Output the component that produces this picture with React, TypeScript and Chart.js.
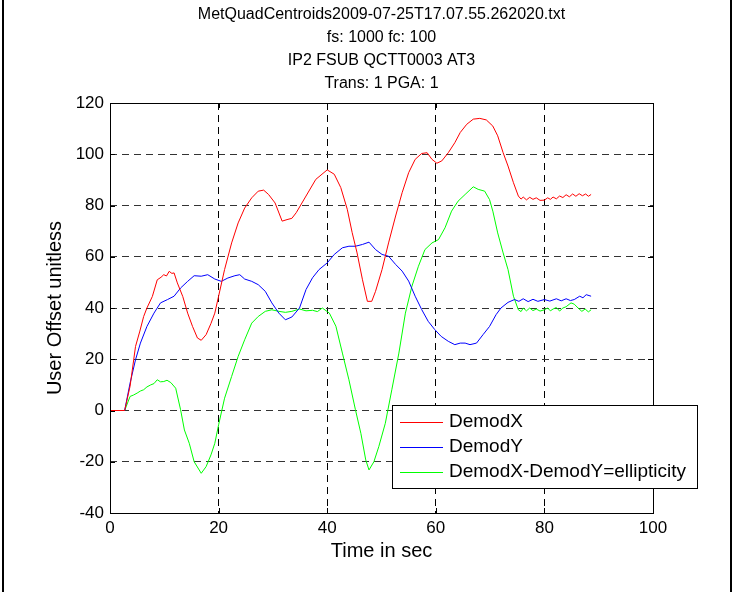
import { useEffect, useRef } from "react";
import { Chart, registerables } from "chart.js";

Chart.register(...registerables);

// Title block shown above the axes
const titleLines = [
  "MetQuadCentroids2009-07-25T17.07.55.262020.txt",
  "fs: 1000 fc: 100",
  "IP2 FSUB QCTT0003 AT3",
  "Trans: 1 PGA: 1",
];

const xAxisLabel = "Time in sec";
const yAxisLabel = "User Offset unitless";

const xTicks = [0, 20, 40, 60, 80, 100];
const yTicks = [-40, -20, 0, 20, 40, 60, 80, 100, 120];

const legendLabels = ["DemodX", "DemodY", "DemodX-DemodY=ellipticity"];
const seriesColors = ["#ff0000", "#0000ff", "#00ff00"];

// DemodX
const demodXTime = [
  0, 2.7, 3.7, 4.7, 5.5, 6.2, 6.8, 7.8, 8.7, 9.4, 9.9, 10.4, 10.9, 11.4, 11.8, 12.4, 13.4, 14.3, 15.2, 16.1,
  16.8, 17.7, 18.6, 19.3, 20, 21.1, 22.4, 23.6, 24.8, 26.1, 27.3, 28.3, 29.2, 30.4, 31.7, 32.6, 33.5, 34.3,
  36.1, 37.9, 40, 41.3, 42.5, 43.7, 44.6, 45.5, 46.5, 47.4, 48.2, 48.9, 50.1, 51.3, 52.6, 53.8, 55, 56.2,
  57.4, 58.4, 59.3, 60.2, 61.1, 62.3, 63.5, 64.5, 65.7, 66.9, 68.1, 69.3, 70.5, 71.4, 72.4, 73.3, 74.3,
  75.2, 75.7, 76.1, 76.7, 77.3, 77.9, 78.5, 79.2, 80, 80.6, 81.1, 81.6, 82.2, 82.8, 83.4, 84, 84.6, 85.2,
  85.8, 86.4, 87, 87.6, 88.1, 88.6,
];
const demodXValue = [
  0, 0, 9.5, 25, 31, 36.7, 40, 44.5, 51, 52, 53, 52.5, 54.3, 53.5, 53.7, 49.8, 44.5, 38, 32.8, 28.3,
  27.4, 29.6, 34, 38, 44.6, 55, 65.4, 73.2, 79, 83, 85.6, 86, 84.3, 81, 73.9, 74.5, 75, 77.2,
  83.7, 90.2, 93.9, 92.2, 87, 78.5, 69.4, 61.5, 51, 42.6, 42.6, 46.5, 55, 65.4, 75.9, 85, 92.8, 98,
  100.3, 100.6, 98, 96.5, 97.4, 100.6, 104.5, 108.5, 111.7, 113.7, 114, 113.4, 111, 107.2, 100.6, 95.4, 88.9,
  83.7, 82.5, 83.3, 82.2, 83.2, 82.4, 83, 82, 82.1, 83, 82.4, 83.3, 82.6, 83.7, 83.1, 84.2, 83.4, 84.5,
  83.6, 84.6, 83.8, 84.5, 83.6, 84.3,
];

// DemodY
const demodYTime = [
  0, 2.7, 3.7, 4.7, 5.6, 6.8, 8.1, 9.3, 10.6, 11.8, 13, 14.3, 15.5, 16.8, 18, 19.3, 20.5, 21.7, 23, 23.9,
  24.8, 26.1, 27.3, 28.6, 29.8, 31.1, 32.3, 33.5, 34.9, 36.1, 37.3, 38.5, 40, 41.3, 42.8, 44, 45.2, 46.5,
  47.7, 48.9, 50.1, 51.3, 52.6, 53.8, 55, 56.2, 57.4, 58.6, 59.8, 61, 62.3, 63.5, 64.5, 65.4, 66.3, 67.5,
  68.7, 69.9, 71.1, 72, 73.3, 74.5, 75.3, 76.1, 77, 77.9, 78.8, 80, 81, 82.2, 83.1, 84, 84.8, 85.5, 86.5,
  87.1, 87.7, 88.6,
];
const demodYValue = [
  0, 0, 10.7, 19.8, 26.3, 32.8, 38, 42, 43.3, 44.6, 47.8, 50.4, 52.6, 52.4, 53, 51.3, 50.4, 51.7, 52.6, 53,
  51.3, 50.4, 49.1, 46.5, 42, 38, 35.4, 36.5, 40, 47.2, 51.8, 55, 57.6, 60.9, 63.5, 64.1, 64.1, 64.8,
  65.7, 62.8, 60.9, 60.2, 57, 54.4, 50.5, 44.6, 39.4, 34.8, 31.6, 28.9, 27, 25.7, 26.3, 26.3, 25.7, 26.3,
  29.6, 32.8, 37.4, 40, 42.2, 43.3, 42.6, 43.6, 42.5, 43.4, 42.6, 43.3, 42.7, 43.6, 42.8, 43.6, 42.9, 43.3, 44.6,
  44.0, 45.2, 44.6,
];

// DemodX-DemodY
const ellipTime = [
  0, 2.7, 3.7, 4.3, 5, 5.6, 6.2, 6.8, 7.5, 8.1, 8.7, 9.3, 9.9, 10.5, 11.2, 12.1, 13, 13.7, 14.6, 15.5,
  16.8, 17.7, 18.6, 19.3, 20, 21.1, 22.4, 23.6, 24.8, 26.1, 27.3, 28.6, 29.8, 31.1, 32.3, 33.5, 34.9, 36.1,
  37.3, 38.2, 39.1, 40.4, 41.6, 42.8, 44, 45.2, 46.2, 47.1, 47.7, 48.6, 49.5, 50.7, 51.9, 53.2, 54.4, 55.6,
  56.8, 58, 59.3, 60.5, 61.7, 62.9, 64.1, 65.4, 66.9, 67.8, 69, 69.9, 70.5, 71.4, 72.4, 73.3, 74.3, 75.2,
  75.7, 76.1, 76.7, 77.3, 77.9, 78.5, 79.2, 80, 80.6, 81.1, 81.6, 82.2, 82.8, 83.4, 84, 84.9, 85.5, 86.2,
  86.9, 87.5, 88.1, 88.6,
];
const ellipValue = [
  0, 0, 5.5, 6.0, 6.8, 7.6, 8.1, 9.2, 10, 10.5, 12, 11.2, 11.3, 11.8, 10.9, 8.7, 0.3, -7.6, -12.8, -20,
  -24.5, -21.9, -17.3, -12.8, -5.6, 4.8, 13.3, 21.1, 27.6, 34.1, 36.7, 38.7, 39.3, 38.7, 38.3, 38.7, 39.6, 38.9,
  39.1, 38.6, 40, 38, 32.9, 22.4, 12, 0.3, -8.9, -19.3, -23.2, -20, -14.1, -5, 8.1, 22.4, 38, 48.5,
  56.3, 62.8, 65.4, 66.7, 71.3, 77.8, 81.7, 84.3, 87.3, 86.3, 85.6, 82.3, 77.8, 69.3, 61.5, 55, 44.6, 39.3,
  38.6, 40, 38.9, 40, 39, 39.6, 38.8, 39.3, 40, 38.9, 39.6, 40.2, 38.8, 40, 40.5, 42, 41.5, 40,
  38.7, 39.6, 38.5, 39.3,
];

const toPoints = (t: number[], v: number[]) => t.map((x, i) => ({ x, y: v[i] }));

const SANS = '"Liberation Sans", Arial, Helvetica, sans-serif';

const figurePlugin = {
  id: "figureDecor",
  beforeDraw(chart: any) {
    const { ctx, width, height } = chart;
    ctx.save();
    ctx.fillStyle = "#ffffff";
    ctx.fillRect(0, 0, width, height);
    ctx.restore();
  },
  afterDraw(chart: any) {
    const { ctx, chartArea, scales } = chart;
    const { left, right, top, bottom } = chartArea;
    const xs = scales.x;
    const ys = scales.y;
    ctx.save();

    // axes box
    ctx.strokeStyle = "#000";
    ctx.lineWidth = 1;
    ctx.setLineDash([]);
    ctx.strokeRect(Math.round(left) + 0.5, Math.round(top) + 0.5, Math.round(right - left), Math.round(bottom - top));

    // inward tick marks on all four sides
    const tl = 5;
    ctx.beginPath();
    xTicks.forEach((v) => {
      const px = Math.round(xs.getPixelForValue(v)) + 0.5;
      ctx.moveTo(px, bottom);
      ctx.lineTo(px, bottom - tl);
      ctx.moveTo(px, top);
      ctx.lineTo(px, top + tl);
    });
    yTicks.forEach((v) => {
      const py = Math.round(ys.getPixelForValue(v)) + 0.5;
      ctx.moveTo(left, py);
      ctx.lineTo(left + tl, py);
      ctx.moveTo(right, py);
      ctx.lineTo(right - tl, py);
    });
    ctx.stroke();

    // figure frame edges
    ctx.fillStyle = "#000";
    ctx.fillRect(2, 0, 2, chart.height);
    ctx.fillRect(730, 0, 2, chart.height);

    // title lines
    const cx = (left + right) / 2;
    ctx.fillStyle = "#000";
    ctx.textAlign = "center";
    ctx.textBaseline = "middle";
    ctx.font = `16px ${SANS}`;
    titleLines.forEach((line, i) => {
      ctx.fillText(line, cx, 15 + i * 23);
    });

    // axis labels
    ctx.font = `20px ${SANS}`;
    ctx.fillText(xAxisLabel, cx, 551);
    ctx.save();
    ctx.translate(55, (top + bottom) / 2);
    ctx.rotate(-Math.PI / 2);
    ctx.fillText(yAxisLabel, 0, 0);
    ctx.restore();

    // legend
    const lx = 392.5;
    const ly = 405.5;
    const lw = 305;
    const lh = 83;
    ctx.fillStyle = "#fff";
    ctx.fillRect(lx, ly, lw, lh);
    ctx.strokeStyle = "#000";
    ctx.lineWidth = 1;
    ctx.strokeRect(lx, ly, lw, lh);
    ctx.font = `19px ${SANS}`;
    ctx.textAlign = "left";
    ctx.textBaseline = "middle";
    legendLabels.forEach((label, i) => {
      const y = 422 + i * 25;
      ctx.strokeStyle = seriesColors[i];
      ctx.beginPath();
      ctx.moveTo(400, y + 0.5);
      ctx.lineTo(443, y + 0.5);
      ctx.stroke();
      ctx.fillStyle = "#000";
      ctx.fillText(label, 449, y);
    });

    ctx.restore();
  },
};

export default function App() {
  const canvasRef = useRef<HTMLCanvasElement | null>(null);

  useEffect(() => {
    if (!canvasRef.current) return;
    const lineSet = (label: string, t: number[], v: number[], color: string) => ({
      label,
      data: toPoints(t, v),
      borderColor: color,
      backgroundColor: color,
      borderWidth: 1,
      pointRadius: 0,
      tension: 0,
      fill: false,
    });

    const chart = new Chart(canvasRef.current, {
      type: "line",
      data: {
        datasets: [
          lineSet(legendLabels[0], demodXTime, demodXValue, seriesColors[0]),
          lineSet(legendLabels[1], demodYTime, demodYValue, seriesColors[1]),
          lineSet(legendLabels[2], ellipTime, ellipValue, seriesColors[2]),
        ],
      },
      options: {
        responsive: false,
        animation: false,
        devicePixelRatio: 1,
        layout: { padding: { top: 103, right: 85, bottom: 0, left: 0 } },
        plugins: {
          legend: { display: false },
          title: { display: false },
          tooltip: { enabled: false },
        },
        scales: {
          x: {
            type: "linear",
            min: 0,
            max: 100,
            afterBuildTicks: (scale: any) => {
              scale.ticks = xTicks.map((value) => ({ value }));
            },
            afterFit: (scale: any) => {
              scale.height = 79;
            },
            ticks: {
              color: "#000",
              padding: 5,
              font: { family: SANS, size: 17 },
              maxRotation: 0,
            },
            grid: { color: "#000", lineWidth: 1, drawTicks: false },
            border: { display: false, dash: [7, 5] },
          },
          y: {
            type: "linear",
            min: -40,
            max: 120,
            afterBuildTicks: (scale: any) => {
              scale.ticks = yTicks.map((value) => ({ value }));
            },
            afterFit: (scale: any) => {
              scale.width = 110;
            },
            ticks: {
              color: "#000",
              padding: 6,
              font: { family: SANS, size: 17 },
            },
            grid: { color: "#333", lineWidth: 1, drawTicks: false },
            border: { display: false, dash: [7, 5] },
          },
        },
      },
      plugins: [figurePlugin],
    });

    return () => chart.destroy();
  }, []);

  return (
    <div style={{ position: "absolute", left: 0, top: 0, width: 738, height: 592, background: "#fff" }}>
      <canvas ref={canvasRef} width={738} height={592} style={{ display: "block" }} />
    </div>
  );
}
